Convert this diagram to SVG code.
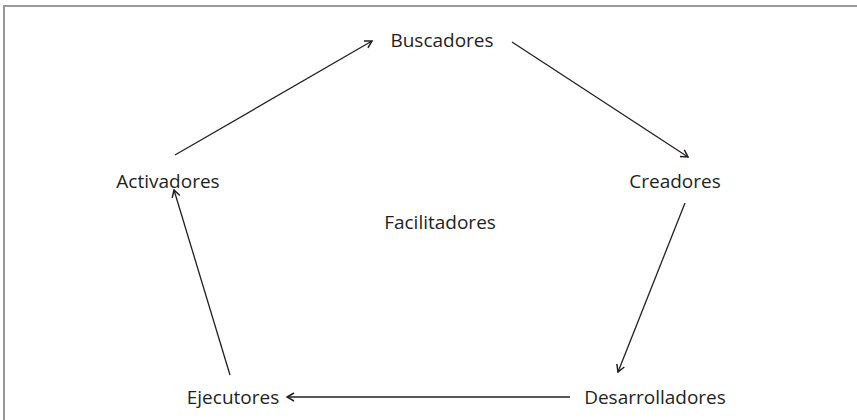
<svg xmlns="http://www.w3.org/2000/svg" width="857" height="420" viewBox="0 0 857 420">
<style>
.lbl{font-family:"Open Sans","Noto Sans",sans-serif;font-size:19px;fill:#231f20;text-anchor:middle;dominant-baseline:central}
.edge{stroke:#231f20;stroke-width:1.3;fill:none;marker-end:url(#arr)}
.frame{stroke:#999;stroke-width:2;fill:none}
</style>
<defs>
<marker id="arr" viewBox="0 0 10 10" refX="9" refY="5" markerWidth="10" markerHeight="10" markerUnits="userSpaceOnUse" orient="auto">
<path d="M2,1 L9,5 L2,9" fill="none" stroke="#231f20" stroke-width="1.5"/>
</marker>
</defs>
<rect width="857" height="420" fill="#fff"/>
<path class="frame" d="M4,420 V6 H857"/>
<g id="connectors">
<line class="edge" x1="175" y1="155" x2="372" y2="41"/>
<line class="edge" x1="512" y1="42" x2="688" y2="157"/>
<line class="edge" x1="685" y1="203" x2="618" y2="372"/>
<line class="edge" x1="570" y1="397" x2="287" y2="397"/>
<line class="edge" x1="230" y1="375" x2="174" y2="190"/>
</g>
<g id="buscadores"><text class="lbl" x="442" y="40">Buscadores</text></g>
<g id="creadores"><text class="lbl" x="675" y="181">Creadores</text></g>
<g id="desarrolladores"><text class="lbl" x="655" y="397">Desarrolladores</text></g>
<g id="ejecutores"><text class="lbl" x="233" y="397">Ejecutores</text></g>
<g id="activadores"><text class="lbl" x="168" y="181">Activadores</text></g>
<g id="facilitadores"><text class="lbl" x="440" y="222">Facilitadores</text></g>
</svg>
